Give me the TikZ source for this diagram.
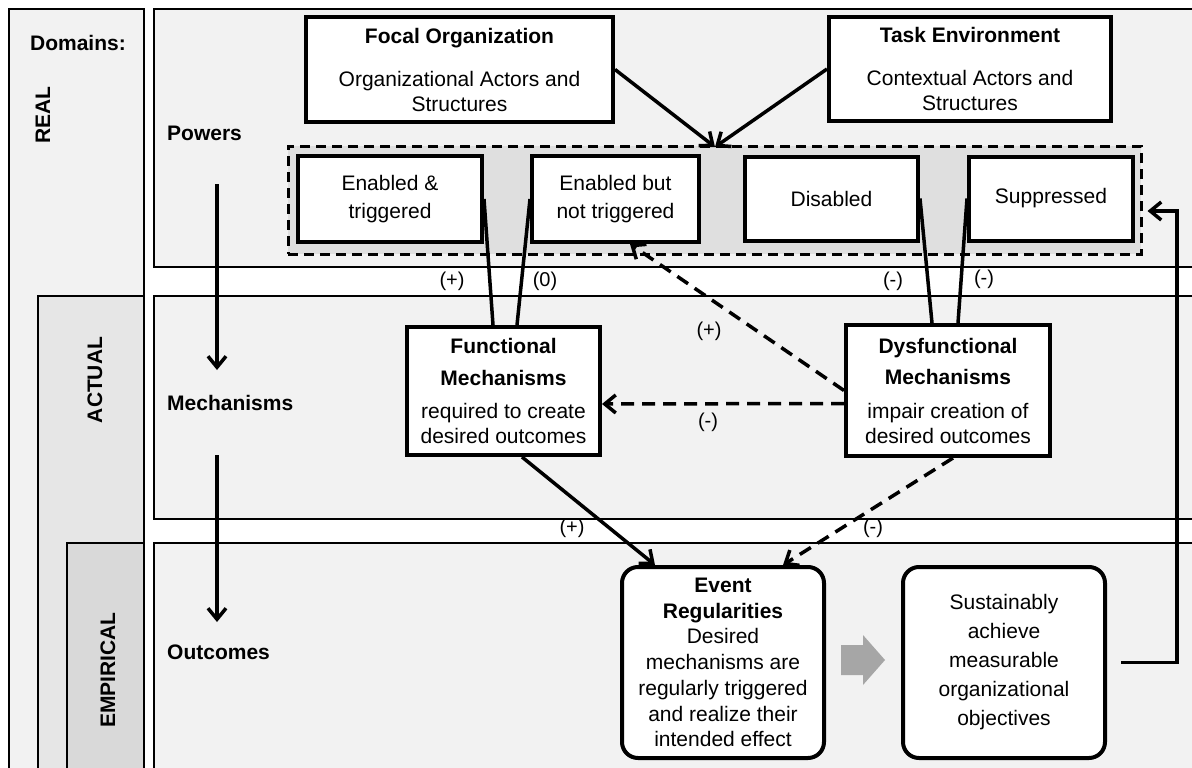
\documentclass[tikz,border=0pt]{standalone}
\usepackage{fontspec}
\setmainfont{Liberation Sans}
\usetikzlibrary{arrows.meta}
\definecolor{back}{HTML}{F2F2F2}
\definecolor{actfill}{HTML}{E6E6E6}
\definecolor{empfill}{HTML}{D9D9D9}
\definecolor{groupfill}{HTML}{DFDFDF}
\definecolor{flowgrey}{HTML}{A6A6A6}
\newcommand{\basefont}{\fontsize{21}{25}\selectfont}
\tikzset{
  dombox/.style={draw, line width=1.8pt},
  region/.style={draw, line width=1.8pt, fill=back},
  head/.style={font=\basefont\bfseries, inner sep=0pt},
  box/.style={draw, line width=4pt, fill=white, align=center, inner sep=0pt},
  group/.style={draw, line width=3pt, dash pattern=on 10pt off 6pt, fill=groupfill},
  sign/.style={font=\fontsize{20}{22}\selectfont, inner sep=0pt},
  conn/.style={line width=3.5pt},
  arr/.style={conn, -{Straight Barb[length=11pt,width=18pt]}},
  dasharr/.style={arr, dash pattern=on 13pt off 8pt}
}
\begin{document}
\begin{tikzpicture}[x=1pt,y=-1pt,font=\basefont]
\useasboundingbox (0,0) rectangle (1192,768);
\clip (0,0) rectangle (1192,768);
\fill[white] (0,0) rectangle (1192,768);
%DOMAIN COLUMN
\draw[dombox, fill=back] (9,9) rectangle (144,790);
\draw[dombox, fill=actfill] (38,296) rectangle (144,790);
\draw[dombox, fill=empfill] (67,543) rectangle (144,790);
%REGION ROWS
\draw[region] (154,9) rectangle (1210,267);
\draw[region] (154,296) rectangle (1210,519);
\draw[region] (154,543) rectangle (1210,790);
\node[head] (domains) at (78,43) {Domains:};
\node[head, rotate=90] (real) at (43,115) {REAL};
\node[head, rotate=90] (actual) at (95,380) {ACTUAL};
\node[head, rotate=90] (empirical) at (108,670) {EMPIRICAL};
\node[head, anchor=west] (powers) at (167,133) {Powers};
\node[head, anchor=west] (mech) at (167,403) {Mechanisms};
\node[head, anchor=west] (outc) at (167,652) {Outcomes};
%SPINE ARROWS
\coordinate (spine1) at (217,184);
\coordinate (spine2) at (217,370);
\coordinate (spine3) at (217,455);
\coordinate (spine4) at (217,622);
\draw[arr] (spine1) -- (spine2);
\draw[arr] (spine3) -- (spine4);
%POWERS
\node[box, minimum width=307, minimum height=105] (focal) at (459.5,69.5)
  {\textbf{Focal Organization}\\[18pt]Organizational Actors and\\Structures};
\node[box, minimum width=282, minimum height=104] (task) at (970,69)
  {\textbf{Task Environment}\\[18pt]Contextual Actors and\\Structures};
\node[group, minimum width=853, minimum height=108] (powgroup) at (714.5,200) {};
\node[box, minimum width=184, minimum height=86] (entrig) at (390,199) {Enabled \&\\[3pt]triggered};
\node[box, minimum width=167, minimum height=86] (ennot) at (615.5,199) {Enabled but\\[3pt]not triggered};
\node[box, minimum width=173, minimum height=84] (disab) at (831.5,198.5) {Disabled};
\node[box, minimum width=164, minimum height=84] (suppr) at (1051,198.5) {Suppressed};
%focal and task to powers
\coordinate (hub) at (715,147);
\draw[arr] (focal.east) -- (hub);
\draw[arr] (task.west) -- (hub);
%MECHANISMS
\node[box, minimum width=193, minimum height=128] (func) at (503.5,391)
  {\textbf{Functional}\\[7pt]\textbf{Mechanisms}\\[8pt]required to create\\desired outcomes};
\node[box, minimum width=204, minimum height=131] (dysf) at (948,390.5)
  {\textbf{Dysfunctional}\\[6pt]\textbf{Mechanisms}\\[9pt]impair creation of\\desired outcomes};
%powers to mechanisms
\draw[conn] (entrig.east) -- ([xshift=-10.5pt]func.north);
\draw[conn] (ennot.west) -- ([xshift=13.5pt]func.north);
\draw[conn] (disab.east) -- ([xshift=-16pt]dysf.north);
\draw[conn] (suppr.west) -- ([xshift=10pt]dysf.north);
\node[sign] (s1) at (452,281) {(+)};
\node[sign] (s2) at (545,281) {(0)};
\node[sign] (s3) at (893,281) {(-)};
\node[sign] (s4) at (984,279) {(-)};
%dysfunctional back to powers and functional
\draw[dasharr] (dysf.west) -- ([xshift=14.5pt]ennot.south);
\node[sign] (s5) at (709,331) {(+)};
\draw[dasharr] ([yshift=-13pt]dysf.west) -- ([yshift=-13pt]func.east);
\node[sign] (s6) at (708,422) {(-)};
%OUTCOMES
\node[box, rounded corners=16pt, minimum width=202, minimum height=191] (event) at (723,662.5)
  {\textbf{Event}\\[0.7pt]\textbf{Regularities}\\[0.7pt]Desired\\[0.7pt]mechanisms are\\[0.7pt]regularly triggered\\[0.7pt]and realize their\\[0.7pt]intended effect};
\node[box, rounded corners=16pt, minimum width=202, minimum height=191] (sust) at (1004,662.5)
  {Sustainably\\[4pt]achieve\\[4pt]measurable\\[4pt]organizational\\[4pt]objectives};
\fill[flowgrey] (841,645) -- (863,645) -- (863,635) -- (885,660) -- (863,685) -- (863,675) -- (841,675) -- cycle;
%mechanisms to outcomes
\draw[arr] ([xshift=18.5pt]func.south) -- ([xshift=-68pt]event.north);
\node[sign] (s7) at (572,528) {(+)};
\draw[dasharr] ([xshift=5pt]dysf.south) -- ([xshift=60pt]event.north);
\node[sign] (s8) at (873,528) {(-)};
%outcomes back to suppressed
\coordinate (ret) at (1177,211);
\draw[arr] ([xshift=14pt]sust.east) -| (ret) -- ([xshift=5pt,yshift=-11pt]powgroup.east);
\end{tikzpicture}
\end{document}
